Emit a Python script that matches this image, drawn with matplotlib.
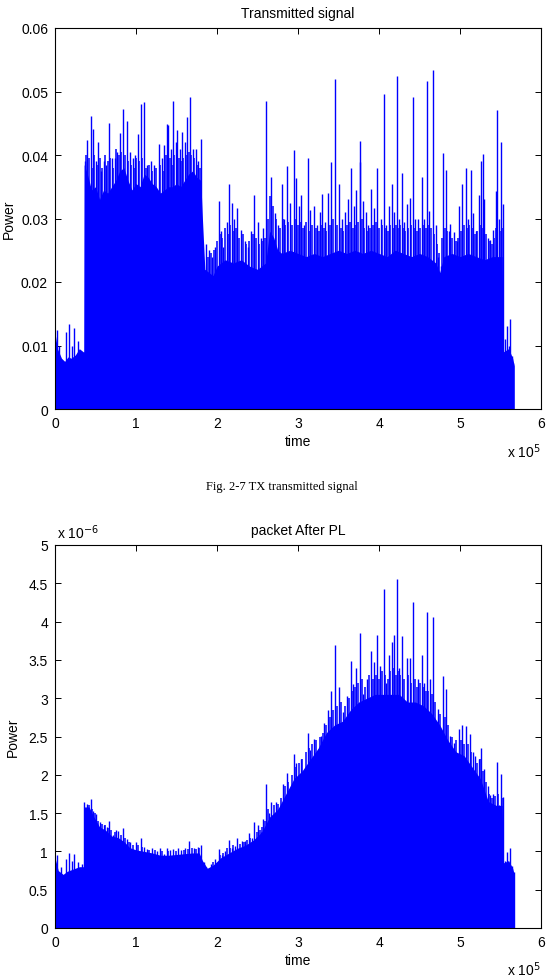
import matplotlib
matplotlib.use("Agg")
import matplotlib.pyplot as plt

# ---------------- data (time in units of 1e5 samples) ----------------
# Transmitted signal: solid body (lower envelope of the dense trace)
tx_floor_t = [0.00, 0.03, 0.08, 0.12, 0.16, 0.20, 0.25, 0.30, 0.35, 0.355, 0.36, 0.40, 0.45, 0.50,
              0.55, 0.60, 0.65, 0.70, 0.75, 0.80, 0.85, 0.90, 0.95, 1.00, 1.05, 1.10, 1.15, 1.20,
              1.25, 1.30, 1.35, 1.40, 1.45, 1.50, 1.55, 1.60, 1.65, 1.70, 1.75, 1.80, 1.82, 1.85,
              1.90, 1.95, 2.00, 2.10, 2.20, 2.30, 2.40, 2.50, 2.60, 2.65, 2.70, 2.75, 2.80, 2.90,
              3.00, 3.10, 3.20, 3.30, 3.40, 3.50, 3.60, 3.70, 3.80, 3.90, 4.00, 4.10, 4.20, 4.30,
              4.40, 4.50, 4.60, 4.70, 4.75, 4.80, 4.90, 5.00, 5.10, 5.20, 5.30, 5.40, 5.52, 5.535,
              5.60, 5.65, 5.67]
tx_floor_p = [0.0120, 0.0095, 0.0080, 0.0075, 0.0082, 0.0080, 0.0085, 0.0095, 0.0090, 0.0090, 0.0385,
              0.0370, 0.0345, 0.0350, 0.0330, 0.0345, 0.0340, 0.0350, 0.0360, 0.0375, 0.0380, 0.0360,
              0.0345, 0.0355, 0.0350, 0.0370, 0.0365, 0.0355, 0.0350, 0.0340, 0.0345, 0.0350, 0.0350,
              0.0355, 0.0350, 0.0360, 0.0370, 0.0375, 0.0365, 0.0360, 0.0300, 0.0220, 0.0215, 0.0210,
              0.0225, 0.0235, 0.0230, 0.0235, 0.0225, 0.0220, 0.0230, 0.0280, 0.0270, 0.0250, 0.0245,
              0.0250, 0.0245, 0.0240, 0.0245, 0.0240, 0.0245, 0.0250, 0.0245, 0.0250, 0.0245, 0.0250,
              0.0245, 0.0240, 0.0250, 0.0245, 0.0240, 0.0245, 0.0240, 0.0230, 0.0215, 0.0240, 0.0245,
              0.0240, 0.0245, 0.0240, 0.0235, 0.0240, 0.0240, 0.0090, 0.0095, 0.0080, 0.0068]
# Transmitted signal: tall individual peaks
tx_peak_t = [0.02, 0.05, 0.13, 0.17, 0.21, 0.24, 0.29,
             0.37, 0.40, 0.44, 0.47, 0.50, 0.53, 0.57, 0.60, 0.63, 0.67, 0.70, 0.74, 0.77, 0.80,
             0.84, 0.89, 0.92, 0.96, 0.99, 1.02, 1.06, 1.10, 1.14, 1.18, 1.22, 1.28, 1.32, 1.35,
             1.38, 1.40, 1.43, 1.46, 1.49, 1.51, 1.54, 1.57, 1.60, 1.63, 1.67, 1.70, 1.74, 1.77, 1.80,
             1.87, 1.90, 1.94, 1.98, 2.02, 2.05, 2.08, 2.12, 2.15, 2.18, 2.21, 2.25, 2.30, 2.34,
             2.38, 2.42, 2.46, 2.50, 2.54, 2.57, 2.61, 2.67, 2.71, 2.75, 2.80, 2.83, 2.86, 2.90,
             2.95, 2.98, 3.01, 3.04, 3.08, 3.12, 3.15, 3.20, 3.24, 3.27, 3.30, 3.33, 3.37, 3.41,
             3.46, 3.51, 3.54, 3.58, 3.62, 3.66, 3.69, 3.72, 3.76, 3.77, 3.80, 3.84, 3.87, 3.90,
             3.94, 3.98, 4.02, 4.06, 4.09, 4.12, 4.16, 4.19, 4.22, 4.25, 4.28, 4.31, 4.34, 4.38,
             4.42, 4.45, 4.48, 4.53, 4.56, 4.59, 4.62, 4.67, 4.70, 4.73, 4.76, 4.79, 4.83, 4.86,
             4.88, 4.93, 4.96, 4.99, 5.03, 5.07, 5.10, 5.13, 5.16, 5.20, 5.23, 5.26, 5.28, 5.30,
             5.34, 5.37, 5.41, 5.44, 5.46, 5.48, 5.50, 5.53,
             5.55, 5.58, 5.60, 5.62, 5.64, 5.66]
tx_peak_p = [0.0125, 0.0100, 0.0121, 0.0134, 0.0099, 0.0127, 0.0107,
             0.0390, 0.0424, 0.0461, 0.0441, 0.0390, 0.0420, 0.0375, 0.0390, 0.0385, 0.0450, 0.0395,
             0.0395, 0.0405, 0.0435, 0.0473, 0.0453, 0.0405, 0.0395, 0.0400, 0.0433, 0.0481, 0.0484,
             0.0385, 0.0390, 0.0385, 0.0418, 0.0395, 0.0415, 0.0449, 0.0447, 0.0410, 0.0485, 0.0420,
             0.0439, 0.0410, 0.0436, 0.0420, 0.0460, 0.0491, 0.0410, 0.0410, 0.0390, 0.0425,
             0.0260, 0.0250, 0.0240, 0.0255, 0.0327, 0.0280, 0.0255, 0.0295, 0.0354, 0.0324, 0.0300,
             0.0317, 0.0282, 0.0265, 0.0255, 0.0280, 0.0337, 0.0295, 0.0270, 0.0285, 0.0485, 0.0365,
             0.0308, 0.0290, 0.0354, 0.0300, 0.0382, 0.0325, 0.0408, 0.0363, 0.0320, 0.0337, 0.0290,
             0.0396, 0.0313, 0.0319, 0.0290, 0.0310, 0.0339, 0.0295, 0.0340, 0.0389, 0.0520, 0.0355,
             0.0300, 0.0310, 0.0330, 0.0379, 0.0320, 0.0345, 0.0389, 0.0422, 0.0327, 0.0310, 0.0290,
             0.0347, 0.0316, 0.0379, 0.0300, 0.0496, 0.0290, 0.0320, 0.0354, 0.0310, 0.0525, 0.0300,
             0.0372, 0.0295, 0.0323, 0.0333, 0.0492, 0.0300, 0.0299, 0.0365, 0.0300, 0.0517, 0.0312,
             0.0534, 0.0290, 0.0240, 0.0225, 0.0403, 0.0376, 0.0280, 0.0292, 0.0278, 0.0265, 0.0320,
             0.0354, 0.0379, 0.0300, 0.0376, 0.0308, 0.0280, 0.0337, 0.0391, 0.0402, 0.0330, 0.0270,
             0.0266, 0.0282, 0.0343, 0.0471, 0.0300, 0.0421, 0.0323,
             0.0110, 0.0131, 0.0100, 0.0141, 0.0084, 0.0072]
# Transmitted signal: dense medium-height lines between the peaks
tx_mid_t = [0.385, 0.42, 0.455, 0.485, 0.515, 0.55, 0.585, 0.615, 0.65, 0.685, 0.72, 0.755, 0.785,
            0.82, 0.865, 0.905, 0.94, 0.975, 1.005, 1.04, 1.08, 1.12, 1.16, 1.20, 1.25, 1.30, 1.335,
            1.365, 1.415, 1.445, 1.475, 1.525, 1.555, 1.585, 1.615, 1.65, 1.685, 1.72, 1.755, 1.785,
            1.885, 1.92, 1.96, 2.00, 2.035, 2.065, 2.10, 2.135, 2.165, 2.195, 2.23, 2.275, 2.32,
            2.36, 2.40, 2.44, 2.48, 2.52, 2.555, 2.59, 2.63, 2.65, 2.69, 2.73, 2.775, 2.815, 2.845,
            2.88, 2.925, 2.965, 2.995, 3.025, 3.06, 3.10, 3.135, 3.175, 3.22, 3.255, 3.285, 3.315,
            3.35, 3.39, 3.435, 3.485, 3.525, 3.56, 3.60, 3.64, 3.675, 3.705, 3.74, 3.785, 3.82,
            3.855, 3.885, 3.92, 3.96, 4.00, 4.04, 4.075, 4.105, 4.14, 4.175, 4.205, 4.235, 4.265,
            4.295, 4.325, 4.36, 4.40, 4.435, 4.465, 4.50, 4.545, 4.575, 4.605, 4.645, 4.685, 4.715,
            4.745, 4.775, 4.81, 4.845, 4.875, 4.905, 4.945, 4.975, 5.015, 5.05, 5.085, 5.115, 5.145,
            5.18, 5.215, 5.245, 5.29, 5.32, 5.355, 5.39, 5.425, 5.45, 5.49, 5.515]
tx_mid_p = [0.0400, 0.0395, 0.0380, 0.0400, 0.0385, 0.0395, 0.0380, 0.0400, 0.0390, 0.0395, 0.0380,
            0.0410, 0.0400, 0.0405, 0.0400, 0.0390, 0.0385, 0.0380, 0.0395, 0.0390, 0.0395, 0.0380,
            0.0385, 0.0375, 0.0380, 0.0385, 0.0375, 0.0400, 0.0395, 0.0385, 0.0400, 0.0395, 0.0390,
            0.0395, 0.0400, 0.0405, 0.0400, 0.0395, 0.0385, 0.0380,
            0.0240, 0.0245, 0.0250, 0.0265, 0.0275, 0.0270, 0.0285, 0.0275, 0.0290, 0.0280, 0.0285,
            0.0270, 0.0275, 0.0260, 0.0265, 0.0275, 0.0270, 0.0260, 0.0265, 0.0270, 0.0300, 0.0335,
            0.0320, 0.0300, 0.0285, 0.0300, 0.0290, 0.0295, 0.0290, 0.0300, 0.0290, 0.0295, 0.0285,
            0.0295, 0.0280, 0.0290, 0.0285, 0.0280, 0.0290, 0.0285, 0.0280, 0.0290, 0.0300, 0.0290,
            0.0285, 0.0280, 0.0290, 0.0295, 0.0285, 0.0290, 0.0295, 0.0300, 0.0285, 0.0280, 0.0285,
            0.0290, 0.0295, 0.0285, 0.0290, 0.0285, 0.0280, 0.0290, 0.0285, 0.0290, 0.0285, 0.0290,
            0.0285, 0.0280, 0.0285, 0.0290, 0.0285, 0.0280, 0.0285, 0.0290, 0.0285, 0.0290, 0.0285,
            0.0275, 0.0260, 0.0245, 0.0270, 0.0285, 0.0280, 0.0275, 0.0270, 0.0265, 0.0270, 0.0280,
            0.0290, 0.0285, 0.0290, 0.0285, 0.0275, 0.0280, 0.0290, 0.0285, 0.0275, 0.0265, 0.0260,
            0.0270, 0.0285, 0.0280, 0.0285]

# Packet after path loss (power in units of 1e-6)
pl_floor_t = [0.00, 0.04, 0.10, 0.15, 0.20, 0.25, 0.30, 0.35, 0.355, 0.36, 0.42, 0.48, 0.55, 0.62,
              0.70, 0.78, 0.86, 0.92, 1.00, 1.10, 1.20, 1.30, 1.40, 1.50, 1.60, 1.70, 1.78, 1.82,
              1.88, 1.95, 2.05, 2.15, 2.25, 2.35, 2.45, 2.55, 2.65, 2.75, 2.85, 2.95, 3.05, 3.15,
              3.25, 3.35, 3.45, 3.55, 3.65, 3.75, 3.85, 3.95, 4.05, 4.15, 4.25, 4.35, 4.45, 4.55,
              4.65, 4.75, 4.85, 4.95, 5.05, 5.15, 5.25, 5.35, 5.45, 5.52, 5.535, 5.60, 5.65, 5.67]
pl_floor_p = [0.92, 0.75, 0.70, 0.74, 0.76, 0.78, 0.80, 0.80, 0.80, 1.58, 1.58, 1.45, 1.32, 1.28,
              1.20, 1.18, 1.12, 1.05, 1.02, 1.00, 0.98, 0.95, 0.95, 0.96, 0.97, 0.98, 0.98, 0.88,
              0.78, 0.82, 0.92, 0.98, 1.04, 1.08, 1.15, 1.25, 1.45, 1.55, 1.75, 1.95, 2.05, 2.20,
              2.35, 2.55, 2.65, 2.70, 2.85, 2.95, 3.00, 3.05, 3.05, 3.05, 3.05, 2.95, 2.95, 2.90,
              2.80, 2.65, 2.45, 2.30, 2.25, 2.10, 1.95, 1.65, 1.60, 1.60, 0.85, 0.88, 0.78, 0.70]
pl_peak_t = [0.02, 0.07, 0.13, 0.17, 0.21, 0.24, 0.29, 0.33,
             0.36, 0.39, 0.44, 0.47, 0.51, 0.55, 0.60, 0.64, 0.67, 0.72, 0.75, 0.78, 0.84, 0.89,
             0.93, 1.00, 1.06, 1.10, 1.13, 1.20, 1.26, 1.30, 1.34, 1.38, 1.42, 1.46, 1.52, 1.56,
             1.61, 1.66, 1.71, 1.76, 1.80, 1.84, 1.87,
             1.93, 1.97, 2.02, 2.06, 2.10, 2.15, 2.18, 2.22, 2.25, 2.31, 2.35, 2.39, 2.43, 2.46,
             2.51, 2.54, 2.57, 2.61, 2.64, 2.67, 2.73, 2.77, 2.81, 2.86, 2.90, 2.95, 2.98, 3.04,
             3.07, 3.12, 3.15, 3.20, 3.25, 3.29, 3.32, 3.37, 3.41, 3.46, 3.50, 3.55, 3.60, 3.65,
             3.68, 3.72, 3.77, 3.80, 3.85, 3.90, 3.94, 3.98, 4.01, 4.06, 4.09, 4.12, 4.16, 4.19,
             4.22, 4.25, 4.28, 4.34, 4.38, 4.42, 4.48, 4.53, 4.56, 4.59, 4.63, 4.67, 4.73, 4.79,
             4.83, 4.88, 4.93, 4.99, 5.03, 5.07, 5.12, 5.16, 5.19, 5.23, 5.26, 5.30, 5.34, 5.37,
             5.41, 5.46, 5.48, 5.50, 5.53, 5.55, 5.58, 5.62, 5.64, 5.67]
pl_peak_p = [0.95, 0.80, 0.90, 0.98, 0.88, 0.97, 0.86, 0.84,
             1.64, 1.62, 1.68, 1.53, 1.49, 1.38, 1.34, 1.32, 1.40, 1.21, 1.28, 1.26, 1.30, 1.16,
             1.12, 1.12, 1.17, 1.06, 1.03, 1.04, 1.01, 1.04, 0.96, 1.05, 1.02, 1.03, 1.04, 1.02,
             1.05, 1.13, 1.04, 1.06, 1.08, 0.86, 0.80,
             0.84, 0.90, 1.03, 0.95, 1.01, 1.15, 1.05, 1.07, 1.17, 1.14, 1.13, 1.24, 1.18, 1.39,
             1.34, 1.25, 1.42, 1.88, 1.50, 1.64, 1.64, 1.55, 1.88, 2.03, 1.80, 2.27, 2.16, 2.21,
             1.90, 2.55, 2.32, 2.47, 2.30, 2.51, 2.68, 2.84, 3.10, 3.69, 3.15, 2.82, 3.03, 3.48,
             3.19, 3.40, 3.85, 3.05, 3.25, 3.62, 3.47, 3.83, 3.42, 4.42, 3.20, 3.56, 3.74, 3.82,
             4.56, 3.40, 3.81, 3.52, 3.53, 4.26, 3.25, 3.56, 3.20, 4.13, 3.25, 4.06, 2.86, 3.29,
             3.12, 2.51, 2.42, 2.60, 2.65, 2.64, 2.53, 2.30, 2.25, 2.20, 2.35, 2.08, 1.85, 1.73,
             1.75, 2.17, 1.60, 2.01, 1.71, 0.88, 0.99, 1.05, 0.81, 0.73]
pl_mid_t = [0.415, 0.455, 0.49, 0.53, 0.575, 0.62, 0.655, 0.695, 0.735, 0.81, 0.865, 0.91, 0.965,
            1.03, 1.08, 1.16, 1.23, 1.32, 1.40, 1.49, 1.59, 1.64, 1.69, 1.74, 1.78, 1.95, 2.04,
            2.08, 2.125, 2.165, 2.20, 2.28, 2.33, 2.37, 2.41, 2.49, 2.525, 2.555, 2.59,
            2.63, 2.70, 2.75, 2.79, 2.835, 2.88, 2.92, 2.965, 3.01, 3.055, 3.095, 3.135, 3.175,
            3.225, 3.27, 3.305, 3.345, 3.39, 3.435, 3.48, 3.525, 3.575, 3.625, 3.665, 3.70, 3.745,
            3.785, 3.825, 3.875, 3.92, 3.96, 3.995, 4.035, 4.075, 4.105, 4.14, 4.175, 4.205, 4.235,
            4.265, 4.31, 4.36, 4.40, 4.44, 4.465, 4.505, 4.545, 4.575, 4.61, 4.65, 4.69, 4.75, 4.81,
            4.855, 4.905, 4.955, 5.01, 5.05, 5.095, 5.14, 5.21, 5.245, 5.285, 5.32, 5.355, 5.39,
            5.43, 5.47, 5.515]
pl_mid_p = [1.60, 1.55, 1.50, 1.40, 1.36, 1.35, 1.30, 1.28, 1.25, 1.22, 1.18, 1.12, 1.08, 1.08,
            1.06, 1.02, 1.02, 1.00, 1.00, 1.01, 1.02, 1.03, 1.05, 1.03, 1.04, 0.86, 0.95, 0.98,
            1.05, 1.05, 1.08, 1.10, 1.12, 1.15, 1.18, 1.25, 1.28, 1.32, 1.40,
            1.55, 1.60, 1.62, 1.70, 1.85, 1.90, 2.00, 2.10, 2.15, 2.20, 2.30, 2.35, 2.40, 2.45,
            2.50, 2.55, 2.65, 2.75, 2.85, 2.90, 2.95, 2.90, 3.00, 3.10, 3.15, 3.20, 3.25, 3.15,
            3.30, 3.25, 3.30, 3.25, 3.35, 3.30, 3.25, 3.35, 3.40, 3.30, 3.35, 3.30, 3.25, 3.30,
            3.20, 3.25, 3.15, 3.20, 3.15, 3.10, 3.10, 3.05, 2.95, 2.80, 2.75, 2.65, 2.50, 2.45,
            2.45, 2.40, 2.40, 2.30, 2.15, 2.20, 2.05, 1.90, 1.75, 1.70, 1.72, 1.75, 1.70]

x_ticks = [0, 1, 2, 3, 4, 5, 6]
tx_yticks = [0, 0.01, 0.02, 0.03, 0.04, 0.05, 0.06]
tx_yticklabels = ["0", "0.01", "0.02", "0.03", "0.04", "0.05", "0.06"]
pl_yticks = [0, 0.5, 1, 1.5, 2, 2.5, 3, 3.5, 4, 4.5, 5]
pl_yticklabels = ["0", "0.5", "1", "1.5", "2", "2.5", "3", "3.5", "4", "4.5", "5"]

# ---------------- drawing ----------------
plt.rcParams['font.family'] = ['Liberation Sans', 'DejaVu Sans']
BLUE = (0.0, 0.0, 1.0)
W, H = 549, 979
fig = plt.figure(figsize=(W / 100, H / 100), dpi=100)


def fx(px):
    return px / W


def fy(py):
    return 1 - py / H


def style(ax, yticks, ylabels, ymax):
    ax.set_xlim(0, 6)
    ax.set_ylim(0, ymax)
    ax.set_xticks(x_ticks)
    ax.set_xticklabels([str(t) for t in x_ticks])
    ax.set_yticks(yticks)
    ax.set_yticklabels(ylabels)
    ax.tick_params(direction='in', length=4, width=0.7, top=True, right=True,
                   labelsize=10, pad=5, colors='black')
    for s in ax.spines.values():
        s.set_linewidth(0.8)


def draw(ax, ft, fp, pt, pp, mt, mp):
    ax.fill_between(ft, 0, fp, color=BLUE, lw=0, zorder=2)
    ax.vlines(mt, 0, mp, color=BLUE, lw=1.1, zorder=2)
    ax.vlines(pt, 0, pp, color=BLUE, lw=1.0, zorder=2)


# top axes: x 55..541 px, y 29..410 px
ax1 = fig.add_axes([fx(55), fy(410), fx(541 - 55), (410 - 29) / H])
draw(ax1, tx_floor_t, tx_floor_p, tx_peak_t, tx_peak_p, tx_mid_t, tx_mid_p)
style(ax1, tx_yticks, tx_yticklabels, 0.06)
ax1.set_title("Transmitted signal", fontsize=10, pad=8)
ax1.set_xlabel("time", fontsize=10, labelpad=3)
ax1.set_ylabel("Power", fontsize=10)
ax1.yaxis.set_label_coords(-0.080, 0.5)
fig.text(fx(541), fy(452), r"x 10$^5$", ha='right', va='center', fontsize=10)

# caption
fig.text(fx(282), fy(487), "Fig. 2-7 TX transmitted signal", ha='center', va='center',
         fontsize=9, family=['Liberation Serif', 'DejaVu Serif'])

# bottom axes: x 55..541 px, y 546..929 px
ax2 = fig.add_axes([fx(55), fy(929), fx(541 - 55), (929 - 546) / H])
draw(ax2, pl_floor_t, pl_floor_p, pl_peak_t, pl_peak_p, pl_mid_t, pl_mid_p)
style(ax2, pl_yticks, pl_yticklabels, 5)
ax2.set_title("packet After PL", fontsize=10, pad=8)
ax2.set_xlabel("time", fontsize=10, labelpad=3)
ax2.set_ylabel("Power", fontsize=10)
ax2.yaxis.set_label_coords(-0.072, 0.5)
fig.text(fx(541), fy(970), r"x 10$^5$", ha='right', va='center', fontsize=10)
fig.text(fx(57), fy(533), r"x 10$^{-6}$", ha='left', va='center', fontsize=10)

fig.savefig("out.png", dpi=100)
